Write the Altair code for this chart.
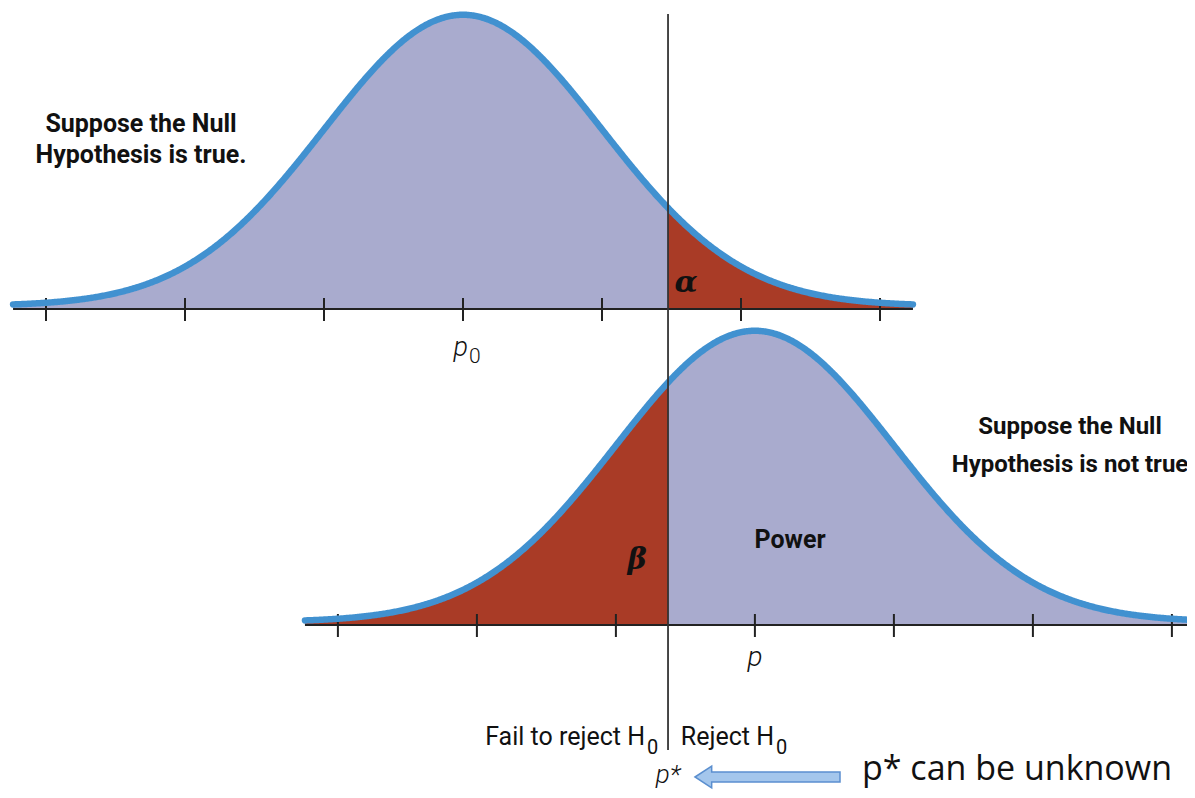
import numpy as np
import pandas as pd
import altair as alt

# ---------------- values (standard-deviation units) ----------------
curve_names = ["null", "alternative"]
curve_means = [0.0, 2.1]          # p0 and p, measured in SDs from p0
critical_value = 1.475            # p*
curve_reach = 3.237               # each curve is drawn this many SDs either side of its mean
tick_steps = [-3, -2, -1, 0, 1, 2, 3]
region_names = ["null_keep", "null_reject", "alt_keep", "alt_reject"]
region_colors = ["#a9abce", "#a93b26", "#a93b26", "#a9abce"]

# ---------------- layout ----------------
W, H = 1179, 782
SD_PX = 139.0          # pixels per standard deviation
DENS_PX = 730.0        # pixels per unit of density
ORIGIN_X = 463.0 - 8   # chart x of p0
ORIGIN_Y = 622.0 - 8   # chart y of the lower curve's baseline


def yv(chart_px):
    return (ORIGIN_Y - chart_px) / DENS_PX


x_scale = alt.Scale(domain=[(0 - ORIGIN_X) / SD_PX, (W - ORIGIN_X) / SD_PX], nice=False, zero=False)
y_scale = alt.Scale(domain=[yv(H), yv(0)], nice=False, zero=False)
bases = [yv(298), 0.0]
gap = 3 / DENS_PX

area_rows, line_rows, axis_rows, tick_rows = [], [], [], []
for ci, (name, mu, base) in enumerate(zip(curve_names, curve_means, bases)):
    z = np.linspace(mu - curve_reach, mu + curve_reach, 801)
    z = np.unique(np.append(z, critical_value))
    d = np.exp(-0.5 * (z - mu) ** 2) / np.sqrt(2 * np.pi)
    for zi, di in zip(z, d):
        line_rows.append({"curve": name, "z": zi, "y": base + di})
        if zi <= critical_value:
            area_rows.append({"region": region_names[2 * ci], "z": zi, "y": base + di, "y0": base - gap})
        if zi >= critical_value:
            area_rows.append({"region": region_names[2 * ci + 1], "z": zi, "y": base + di, "y0": base - gap})
    axis_rows.append({"x1": mu - curve_reach, "x2": mu + curve_reach, "y": base - gap})
    for t in tick_steps:
        tick_rows.append({"z": mu + t, "ya": base - gap + 11 / DENS_PX, "yb": base - gap - 12 / DENS_PX})

area_df = pd.DataFrame(area_rows)
line_df = pd.DataFrame(line_rows)
axis_df = pd.DataFrame(axis_rows)
tick_df = pd.DataFrame(tick_rows)
crit_df = pd.DataFrame({"z": [critical_value], "ya": [yv(6)], "yb": [yv(742)]})

X = lambda f: alt.X(f, scale=x_scale, axis=None)
Y = lambda f: alt.Y(f, scale=y_scale, axis=None)

areas = alt.Chart(area_df).mark_area(clip=True).encode(
    x=X("z:Q"), y=Y("y:Q"), y2="y0:Q",
    color=alt.Color("region:N", scale=alt.Scale(domain=region_names, range=region_colors), legend=None),
    detail="region:N",
)
axes = alt.Chart(axis_df).mark_rule(color="#222222", strokeWidth=2, clip=True).encode(
    x=X("x1:Q"), x2="x2:Q", y=Y("y:Q"))
ticks = alt.Chart(tick_df).mark_rule(color="#222222", strokeWidth=2, clip=True).encode(
    x=X("z:Q"), y=Y("ya:Q"), y2="yb:Q")
lines = alt.Chart(line_df).mark_line(color="#4191d0", strokeWidth=6.5, clip=True, strokeCap="round").encode(
    x=X("z:Q"), y=Y("y:Q"), detail="curve:N")
crit = alt.Chart(crit_df).mark_rule(color="#333333", strokeWidth=1.8).encode(
    x=X("z:Q"), y=Y("ya:Q"), y2="yb:Q")

SANS = "Roboto, Liberation Sans, sans-serif"
SERIF = "DejaVu Serif, serif"

label_texts = ["Suppose the Null", "Hypothesis is true.", "Suppose the Null", "Hypothesis is not true",
               "Power", "\u03b1", "\u03b2", "p", "0", "p", "Fail to reject H", "0", "Reject H", "0",
               "p*", "p* can be unknown"]

# (page x, page y, size, weight, style, font, align)
label_styles = [
    (141, 132, 25, "bold", "normal", SANS, "center"),
    (141, 163, 25, "bold", "normal", SANS, "center"),
    (1070, 434, 24, "bold", "normal", SANS, "center"),
    (1070, 472, 24, "bold", "normal", SANS, "center"),
    (790, 548, 25, "bold", "normal", SANS, "center"),
    (686, 292, 30, "bold", "italic", SERIF, "center"),
    (637, 569, 29, "bold", "italic", SERIF, "center"),
    (468, 356, 27, 300, "italic", SANS, "right"),
    (469, 363, 21, 300, "normal", SANS, "left"),
    (755, 666, 28, 300, "italic", SANS, "center"),
    (645, 745, 25, "normal", "normal", SANS, "right"),
    (647, 754, 20, "normal", "normal", SANS, "left"),
    (774, 745, 25, "normal", "normal", SANS, "right"),
    (776, 754, 20, "normal", "normal", SANS, "left"),
    (668, 783, 26, 300, "italic", SANS, "center"),
    (862, 780, 34, "normal", "normal", "Open Sans, sans-serif", "left"),
]

text_layers = []
for txt, (px, py, size, weight, style, font, align) in zip(label_texts, label_styles):
    text_layers.append(
        alt.Chart(pd.DataFrame({"t": [txt]})).mark_text(
            font=font, fontSize=size, fontWeight=weight, fontStyle=style, align=align,
            baseline="alphabetic", color="#111111",
        ).encode(text="t:N", x=alt.value(px - 8), y=alt.value(py - 8))
    )

arrow_path = "M -1 0 L -0.77 -0.15 L -0.77 -0.07 L 1 -0.07 L 1 0.07 L -0.77 0.07 L -0.77 0.15 Z"
arrow = alt.Chart(pd.DataFrame({"a": [0]})).mark_point(
    shape=arrow_path, filled=True, fill="#a4c6ec", stroke="#5b8fcf", strokeWidth=1.5,
    opacity=1, size=145 ** 2,
).encode(x=alt.value(767.5 - 8), y=alt.value(777 - 8))

chart = alt.layer(areas, axes, ticks, lines, crit, arrow, *text_layers).properties(
    width=W, height=H, padding=0, autosize=alt.AutoSizeParams(type="none"), background="white"
).configure_view(stroke=None)

chart.save("out.html", embed_options={"renderer": "svg", "actions": False})
